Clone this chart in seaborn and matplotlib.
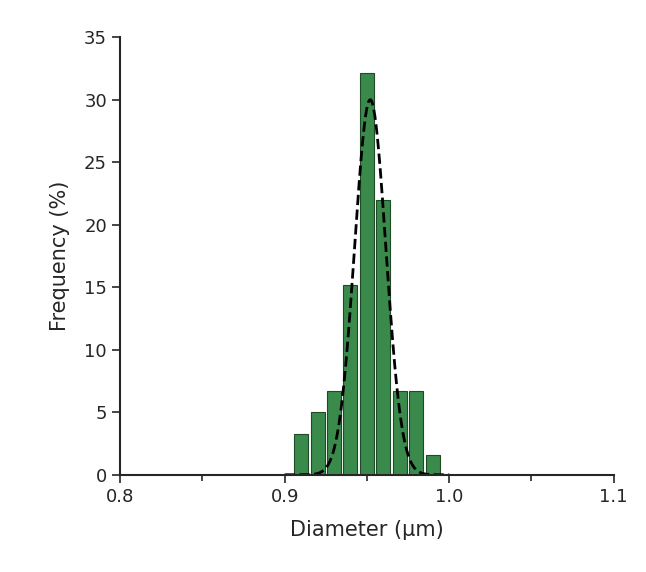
import numpy as np
import pandas as pd
import matplotlib
matplotlib.use("Agg")
import matplotlib.pyplot as plt
import seaborn as sns
from matplotlib.ticker import MultipleLocator

# Histogram bins (bin centre, µm) and frequency (%)
diameters = [0.91, 0.92, 0.93, 0.94, 0.95, 0.96, 0.97, 0.98, 0.99]
frequency = [3.3, 5.0, 6.7, 15.2, 32.1, 22.0, 6.7, 6.7, 1.6]

# Gaussian fit parameters
fit_mean = 0.952
fit_sigma = 0.0095
fit_peak = 30.0

sns.set_style("ticks")
plt.rcParams["font.family"] = ["DejaVu Sans"]

df = pd.DataFrame({"d": diameters, "f": frequency})

fig, ax = plt.subplots(figsize=(6.46, 5.72), dpi=100)
sns.histplot(data=df, x="d", weights="f", bins=len(diameters),
             binrange=(diameters[0] - 0.005, diameters[-1] + 0.005),
             shrink=0.85, color="#3a8a4c", alpha=1, edgecolor="#1e4a28",
             linewidth=0.8, ax=ax)

xs = np.linspace(0.9, 1.0, 300)
ys = fit_peak * np.exp(-0.5 * ((xs - fit_mean) / fit_sigma) ** 2)
sns.lineplot(x=xs, y=ys, color="black", linestyle="--", linewidth=2, ax=ax)

ax.set_xlim(0.8, 1.1)
ax.set_ylim(0, 35)
ax.xaxis.set_major_locator(MultipleLocator(0.1))
ax.xaxis.set_minor_locator(MultipleLocator(0.05))
ax.yaxis.set_major_locator(MultipleLocator(5))
ax.tick_params(axis="both", which="major", labelsize=13, length=6, width=1.2, direction="out")
ax.tick_params(axis="x", which="minor", length=4, width=1.2, direction="out")
ax.xaxis.set_major_formatter(plt.FuncFormatter(lambda v, p: f"{v:.1f}"))
ax.set_xlabel("Diameter (µm)", fontsize=15, labelpad=10)
ax.set_ylabel("Frequency (%)", fontsize=15, labelpad=10)
for s in ["left", "bottom"]:
    ax.spines[s].set_linewidth(1.5)
sns.despine(ax=ax)

fig.subplots_adjust(left=0.186, right=0.95, bottom=0.17, top=0.935)
fig.savefig("out.png", dpi=100)
